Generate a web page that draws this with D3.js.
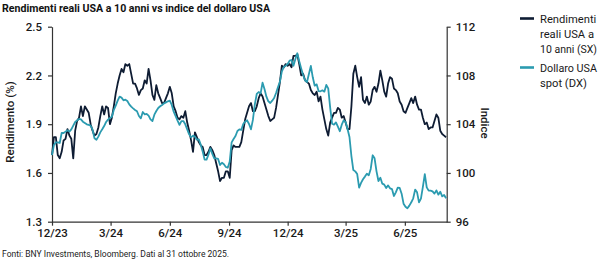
<!DOCTYPE html>
<html><head><meta charset="utf-8">
<script src="https://cdn.jsdelivr.net/npm/d3@7/dist/d3.min.js"></script>
<style>
body{margin:0;background:#fff;}
svg{display:block;font-family:Roboto,"Liberation Sans",Arial,sans-serif;}
</style></head><body>
<svg id="c" width="600" height="263"></svg>
<script>
// ---- data ----
const title = "Rendimenti reali USA a 10 anni vs indice del dollaro USA";
const footnote = "Fonti: BNY Investments, Bloomberg. Dati al 31 ottobre 2025.";
const startDate = "2023-12-01";
const stepDays = 3;
const seriesNames = ["Rendimenti reali USA a 10 anni (SX)", "Dollaro USA spot (DX)"];
const legendLines = [["Rendimenti","reali USA a","10 anni (SX)"],["Dollaro USA","spot (DX)"]];
const xTickDates = ["2023-12-01","2024-03-01","2024-06-01","2024-09-01","2024-12-01","2025-03-01","2025-06-01"];
const xTickLabels = ["12/23","3/24","6/24","9/24","12/24","3/25","6/25"];
const yLeftTicks = [1.3,1.6,1.9,2.2,2.5];
const yRightTicks = [96,100,104,108,112];
const realYield = [
1.71,1.82,1.82,1.71,1.69,1.73,1.80,1.81,1.87,1.83,1.81,1.69,1.86,1.92,1.94,2.01,1.95,2.01,1.99,1.97,
1.90,1.86,1.83,1.84,1.88,1.95,2.01,1.96,2.01,2.00,1.90,1.94,2.01,2.09,2.15,2.20,2.24,2.22,2.27,2.26,
2.27,2.21,
2.15,2.15,2.12,2.08,2.11,2.12,2.17,2.15,2.24,2.17,2.08,2.05,2.14,2.09,2.06,2.03,2.03,2.06,2.09,2.13,
2.09,2.01,1.98,1.94,1.93,1.95,1.94,1.98,1.91,1.86,1.80,1.73,1.85,1.82,1.79,1.77,1.76,1.71,1.71,1.73,
1.76,
1.74,1.71,1.66,1.61,1.55,1.57,1.57,1.61,1.61,1.57,1.74,1.77,1.76,1.76,1.76,1.79,1.86,1.93,1.97,2.01,
2.03,1.98,1.98,2.01,2.06,2.09,2.07,2.03,1.99,1.95,1.92,1.93,1.94,2.00,2.08,2.16,2.26,2.25,2.27,2.26,
2.27,2.25,
2.32,2.32,2.33,2.27,2.20,2.21,2.17,2.16,2.15,2.11,2.09,2.08,2.10,2.04,2.07,1.99,1.93,1.87,1.83,1.91,
1.94,1.97,1.97,2.00,1.99,1.94,1.95,1.91,1.87,1.87,2.01,2.21,2.26,2.19,2.13,2.19,2.05,2.03,2.07,2.02,
2.04,
2.11,2.13,2.10,2.15,2.23,2.17,2.10,2.07,2.15,2.19,2.18,2.12,2.11,2.09,2.04,2.02,1.98,1.97,2.00,2.03,
2.06,2.03,2.07,2.02,1.99,1.99,1.94,1.90,1.91,1.87,1.88,1.88,1.92,1.96,1.94,1.86,1.84,1.83,1.82
];
const dollarIndex = [
101.47,102.29,102.51,102.51,102.46,103.28,103.28,103.39,103.50,103.39,103.58,103.88,104.18,104.32,104.43,104.40,104.21,104.10,103.99,103.94,
103.88,103.55,102.84,102.73,102.98,103.33,103.58,103.85,104.18,104.37,104.51,104.62,105.17,105.52,105.93,106.26,106.18,105.96,106.01,105.90,
105.63,105.44,
105.30,105.17,105.06,104.67,104.48,105.00,104.81,104.84,104.70,104.40,104.26,104.78,105.08,105.33,105.47,105.58,105.71,105.79,105.88,105.93,
105.58,105.03,104.67,104.29,103.94,104.26,104.26,103.99,103.58,103.17,102.92,103.06,102.98,102.73,102.76,102.32,101.77,101.09,101.09,101.50,
102.02,
101.56,101.20,101.20,101.15,100.65,100.84,100.71,100.49,100.43,100.93,102.51,102.79,103.03,103.44,103.58,103.53,104.02,104.21,104.32,104.02,
103.58,104.35,105.63,106.48,106.64,106.53,107.41,106.89,106.26,105.88,105.74,105.93,106.15,106.56,107.05,107.49,108.34,108.69,108.80,108.94,
109.21,109.27,
108.80,109.35,109.82,109.16,108.58,108.04,107.60,107.46,108.12,108.78,107.85,107.16,107.27,106.72,106.70,106.78,106.67,107.22,106.94,105.38,
104.04,103.96,104.15,103.80,103.42,103.96,104.32,104.18,103.61,102.95,101.39,100.24,100.13,99.91,98.79,99.18,99.48,99.70,99.94,99.81,
100.33,
101.45,101.20,100.13,99.34,99.61,99.12,99.04,98.77,98.98,98.74,98.68,98.11,98.41,98.79,98.77,98.30,97.48,97.23,97.10,97.32,
97.59,97.92,98.63,98.41,97.59,97.89,98.85,99.91,98.82,98.55,98.55,98.49,98.30,98.57,98.22,98.46,98.08,98.19,97.92
];
const xDomain = ["2023-12-01","2025-08-05"];

// ---- drawing ----
const parse = d3.utcParse("%Y-%m-%d");
const t0 = parse(startDate);
const dates = realYield.map((_, i) => d3.utcDay.offset(t0, i * stepDays));
const colors = ["#0e1c33", "#2b9bb0"];
const textCol = "#1a1a1a";
const svg = d3.select("#c");
const L = 52, R = 446.7, T = 26.7, B = 221.7;

const x = d3.scaleUtc().domain(xDomain.map(parse)).range([L, R]);
const yL = d3.scaleLinear().domain([1.3, 2.5]).range([B, T]);
const yR = d3.scaleLinear().domain([96, 112]).range([B, T]);

svg.append("text").attr("x", 2).attr("y", 11.5)
  .attr("font-size", 11.2).attr("font-weight", 700).attr("fill", "#111")
  .attr("textLength", 268).attr("lengthAdjust", "spacingAndGlyphs").text(title);

function styleAxis(g) {
  g.select(".domain").attr("stroke", "#333").attr("stroke-width", 1.2);
  g.selectAll(".tick line").attr("stroke", "#333").attr("stroke-width", 1.2);
  g.selectAll(".tick text").attr("fill", textCol).attr("font-size", 11.5)
    .attr("font-weight", 500).attr("font-family", "Roboto, 'Liberation Sans', Arial, sans-serif");
}

const gL = svg.append("g").attr("transform", `translate(${L},0)`)
  .call(d3.axisLeft(yL).tickValues(yLeftTicks).tickFormat(d3.format(".1f")).tickSize(4).tickPadding(6).tickSizeOuter(0));
styleAxis(gL);
const gR = svg.append("g").attr("transform", `translate(${R},0)`)
  .call(d3.axisRight(yR).tickValues(yRightTicks).tickFormat(d3.format("d")).tickSize(4).tickPadding(5).tickSizeOuter(0));
styleAxis(gR);
const gX = svg.append("g").attr("transform", `translate(0,${B})`)
  .call(d3.axisBottom(x).tickValues(xTickDates.map(parse)).tickFormat((d, i) => xTickLabels[i]).tickSize(4).tickPadding(3).tickSizeOuter(0));
styleAxis(gX);

svg.append("text").attr("transform", `translate(14,122) rotate(-90)`)
  .attr("text-anchor", "middle").attr("font-size", 11.5).attr("font-weight", 500)
  .attr("fill", textCol).text("Rendimento (%)");
svg.append("text").attr("transform", `translate(481,123) rotate(90)`)
  .attr("text-anchor", "middle").attr("font-size", 11.5).attr("font-weight", 500)
  .attr("fill", textCol).text("Indice");

const lineL = d3.line().x((d, i) => x(dates[i])).y(d => yL(d));
const lineR = d3.line().x((d, i) => x(dates[i])).y(d => yR(d));
svg.append("path").datum(realYield).attr("d", lineL).attr("fill", "none")
  .attr("stroke", colors[0]).attr("stroke-width", 1.8).attr("stroke-linejoin", "round");
svg.append("path").datum(dollarIndex).attr("d", lineR).attr("fill", "none")
  .attr("stroke", colors[1]).attr("stroke-width", 1.8).attr("stroke-linejoin", "round");

// legend
const legY = [18.5, 67.5];
const legMaxW = 57;
legendLines.forEach((lines, k) => {
  const g = svg.append("g");
  g.append("line").attr("x1", 520).attr("x2", 534).attr("y1", legY[k]).attr("y2", legY[k])
    .attr("stroke", colors[k]).attr("stroke-width", 2.6);
  lines.forEach((s, j) => {
    const t = g.append("text").attr("x", 540).attr("y", legY[k] + 4 + j * 15)
      .attr("font-size", 11.2).attr("fill", textCol).text(s);
    const w = t.node().getComputedTextLength();
    if (w > legMaxW) t.attr("textLength", legMaxW).attr("lengthAdjust", "spacingAndGlyphs");
  });
});

svg.append("text").attr("x", 2).attr("y", 257)
  .attr("font-size", 8.6).attr("fill", "#222")
  .attr("textLength", 227).attr("lengthAdjust", "spacingAndGlyphs").text(footnote);
</script>
</body></html>
